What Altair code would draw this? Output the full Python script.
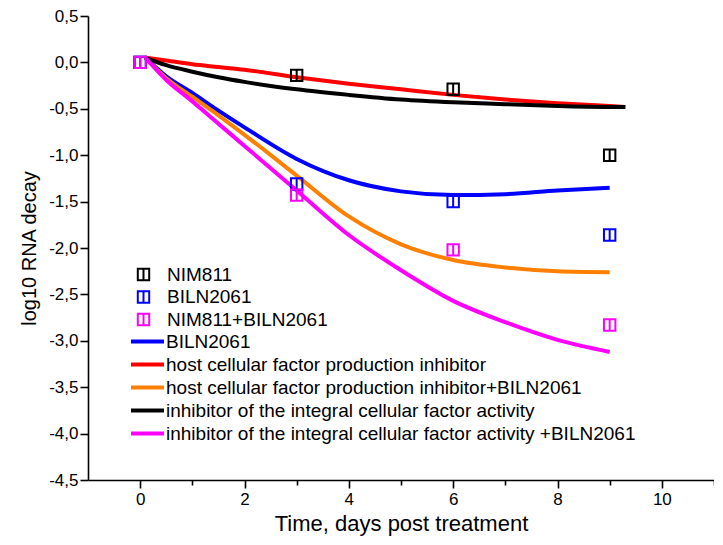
import altair as alt
import pandas as pd

# ---------------- data ----------------
# model curves (time in days, log10 RNA decay)
blue_t = [0.1, 0.5, 1, 1.5, 2, 3, 4, 5, 6, 7, 8, 9]
blue_v = [0.05, -0.15, -0.33, -0.52, -0.70, -1.04, -1.27, -1.39, -1.43, -1.42, -1.38, -1.35]

red_t = [0.1, 0.5, 1, 1.5, 2, 3, 4, 5, 6, 7, 8, 9, 9.3]
red_v = [0.05, 0.02, -0.02, -0.05, -0.08, -0.16, -0.23, -0.29, -0.35, -0.40, -0.44, -0.47, -0.48]

orange_t = [0.1, 0.5, 1, 1.5, 2, 3, 4, 5, 6, 7, 8, 9]
orange_v = [0.05, -0.17, -0.37, -0.57, -0.78, -1.22, -1.66, -1.96, -2.13, -2.21, -2.25, -2.26]

black_t = [0.1, 0.5, 1, 1.5, 2, 3, 4, 5, 6, 7, 8, 9, 9.3]
black_v = [0.05, -0.03, -0.10, -0.16, -0.21, -0.29, -0.35, -0.40, -0.43, -0.45, -0.47, -0.48, -0.48]

magenta_t = [0.1, 0.5, 1, 1.5, 2, 3, 4, 5, 6, 7, 8, 9]
magenta_v = [0.05, -0.19, -0.42, -0.66, -0.90, -1.38, -1.86, -2.24, -2.57, -2.80, -2.99, -3.12]

line_names = [
    "BILN2061",
    "host cellular factor production inhibitor",
    "host cellular factor production inhibitor+BILN2061",
    "inhibitor of the integral cellular factor activity",
    "inhibitor of the integral cellular factor activity +BILN2061",
]
line_colors = ["#0000ff", "#ff0000", "#ff8000", "#000000", "#ff00ff"]

# experimental points
pt_days = [0, 3, 6, 9]
nim_v = [0.0, -0.14, -0.29, -1.00]
biln_v = [0.0, -1.31, -1.50, -1.86]
combo_v = [0.0, -1.43, -2.02, -2.83]
pt_names = ["NIM811", "BILN2061", "NIM811+BILN2061"]
pt_colors = ["#000000", "#0000ff", "#ff00ff"]

# ---------------- tables ----------------
rows = []
for name, ts, vs in zip(line_names,
                        [blue_t, red_t, orange_t, black_t, magenta_t],
                        [blue_v, red_v, orange_v, black_v, magenta_v]):
    for t, v in zip(ts, vs):
        rows.append({"series": name, "t": t, "v": v})
lines_df = pd.DataFrame(rows)

prow = []
for i, (name, vs) in enumerate(zip(pt_names, [nim_v, biln_v, combo_v])):
    for t, v in zip(pt_days, vs):
        prow.append({"group": name, "t": t, "v": v, "k": i})
pts_df = pd.DataFrame(prow)

FONT = "Liberation Sans"
marker_path = "M-1,-1H1V1H-1Z M0,-1V1"
legend_line_path = "M-2.75,0H2.75"

x_vals = list(range(0, 12))
y_vals = [round(-4.5 + 0.25 * i, 2) for i in range(21)]

x_enc = alt.X(
    "t:Q",
    scale=alt.Scale(domain=[-1, 11], nice=False, zero=False),
    axis=alt.Axis(
        title="Time, days post treatment",
        values=x_vals,
        labelExpr="datum.value % 2 == 0 ? format(datum.value, 'd') : ''",
        tickSize={"condition": {"test": "datum.value % 2 == 0", "value": 8}, "value": 5},
        grid=False,
        labelFont=FONT, labelFontSize=17, labelColor="black",
        titleFont=FONT, titleFontSize=22, titleFontWeight="normal", titleColor="black",
        titlePadding=6,
        labelPadding=3,
    ),
)
y_enc = alt.Y(
    "v:Q",
    scale=alt.Scale(domain=[-4.5, 0.5], nice=False, zero=False),
    axis=alt.Axis(
        title="log10 RNA decay",
        values=y_vals,
        labelExpr="abs(datum.value*2 - round(datum.value*2)) < 0.001 ? replace((datum.value < -0.001 ? '-' : '') + format(abs(datum.value), '.1f'), '.', ',') : ''",
        tickSize={"condition": {"test": "abs(datum.value*2 - round(datum.value*2)) < 0.001", "value": 8}, "value": 5},
        grid=False,
        labelFont=FONT, labelFontSize=17, labelColor="black",
        titleFont=FONT, titleFontSize=20, titleFontWeight="normal", titleColor="black",
        titlePadding=9,
        labelPadding=2,
    ),
)

lines = alt.Chart(lines_df).mark_line(strokeWidth=4, interpolate="monotone").encode(
    x=x_enc,
    y=y_enc,
    color=alt.Color(
        "series:N",
        scale=alt.Scale(domain=line_names, range=line_colors),
        sort=line_names,
        legend=alt.Legend(
            title=None, orient="none", legendX=50, legendY=316,
            symbolType=legend_line_path, symbolSize=144, symbolStrokeWidth=4,
            labelFont=FONT, labelFontSize=19, labelColor="black",
            labelOffset=9, rowPadding=3, padding=0, labelLimit=700,
        ),
    ),
)

points = alt.Chart(pts_df).mark_point(
    shape=marker_path, filled=False, strokeWidth=2, size=130, opacity=1
).encode(
    x="t:Q",
    y="v:Q",
    stroke=alt.Stroke(
        "group:N",
        scale=alt.Scale(domain=pt_names, range=pt_colors),
        sort=pt_names,
        legend=alt.Legend(
            title=None, orient="none", legendX=46, legendY=249,
            symbolType=marker_path, symbolSize=130, symbolStrokeWidth=2,
            symbolFillColor="transparent",
            labelFont=FONT, labelFontSize=19, labelColor="black",
            labelOffset=14, rowPadding=1.5, padding=0, labelLimit=700,
        ),
    ),
    order="k:Q",
)

chart = alt.layer(lines, points).properties(
    width=626,
    height=464,
    background="white",
    autosize=alt.AutoSizeParams(type="none"),
    padding={"left": 80, "top": 8, "right": 0, "bottom": 57},
).configure_view(stroke=None).configure_axis(
    domainColor="black", domainWidth=1.6, tickColor="black", tickWidth=1.6,
)

chart.save("out.html", embed_options={"renderer": "svg", "actions": False})
